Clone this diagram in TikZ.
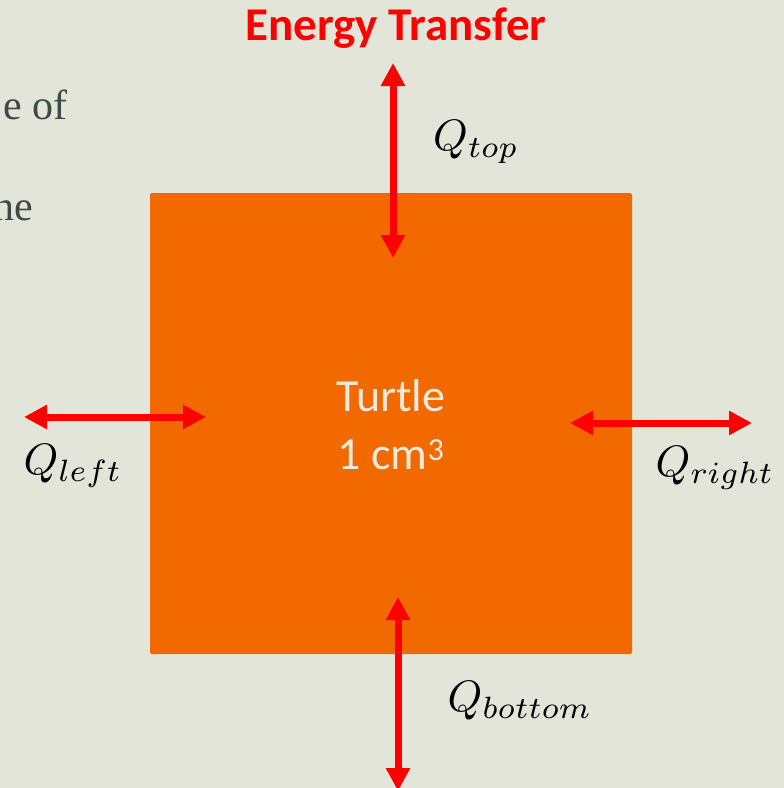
\documentclass[tikz,border=0pt]{standalone}
\usepackage{fontspec}
\setmainfont{Liberation Serif}
\newfontfamily\calib{Carlito}
\usetikzlibrary{arrows.meta}
\definecolor{paper}{HTML}{E3E5D9}
\definecolor{boxorange}{HTML}{F26900}
\definecolor{flowred}{HTML}{FF0000}
\definecolor{slate}{HTML}{3E4A48}
\definecolor{pale}{HTML}{EDEBDD}
\newcommand{\qsym}[1]{\scalebox{4.4}{$Q_{#1}$}}
\tikzset{
  flow/.style={draw=flowred, line width=7pt,
    {Triangle[width=23pt,length=23pt]}-{Triangle[width=23pt,length=23pt]}},
  qlabel/.style={inner sep=0pt},
  bodytext/.style={inner sep=0pt, text=slate, font=\fontsize{42}{50}\selectfont}
}
\begin{document}
\begin{tikzpicture}[x=1pt,y=-1pt]
  \useasboundingbox (0,0) rectangle (784,788);
  \clip (0,0) rectangle (784,788);
  \fill[paper] (0,0) rectangle (784,788);

  % fragments of the slide's body text
  \node[bodytext, anchor=base east] (frag1) at (68,119) {e of};
  \node[bodytext, anchor=base east] (frag2) at (33,220) {ne};

  % control volume
  \fill[boxorange, rounded corners=1.5pt] (150,193) rectangle (632,654);
  \node[text=pale, align=center, inner sep=0pt,
        font=\calib\fontsize{46}{58}\selectfont] (turtle) at (391,425)
        {Turtle\\1 cm\textsuperscript{3}};

  \node[text=flowred, inner sep=0pt, font=\calib\bfseries\fontsize{47}{54}\selectfont]
    (title) at (396,28) {Energy Transfer};

  % heat flow arrows
  \coordinate (topout) at (393,63);
  \coordinate (topin) at (393,258);
  \coordinate (leftout) at (24,417);
  \coordinate (leftin) at (206,417);
  \coordinate (rightin) at (570,423);
  \coordinate (rightout) at (752,423);
  \coordinate (botin) at (398,597);
  \coordinate (botout) at (398,791);
  \draw[flow] (topout) -- (topin);
  \draw[flow] (leftout) -- (leftin);
  \draw[flow] (rightin) -- (rightout);
  \draw[flow] (botin) -- (botout);

  \node[qlabel] (qtop) at (476,142) {\qsym{top}};
  \node[qlabel] (qleft) at (73,466) {\qsym{left}};
  \node[qlabel] (qright) at (715,468) {\qsym{right}};
  \node[qlabel] (qbottom) at (520,701) {\qsym{bottom}};
\end{tikzpicture}
\end{document}
